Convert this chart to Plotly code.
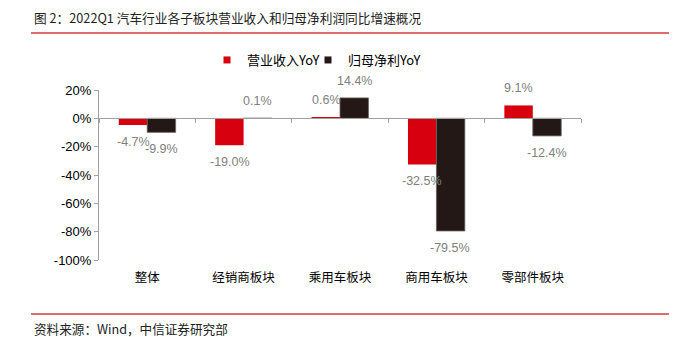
import plotly.graph_objects as go

categories = ["整体", "经销商板块", "乘用车板块", "商用车板块", "零部件板块"]
revenue_yoy = [-4.7, -19.0, 0.6, -32.5, 9.1]
profit_yoy = [-9.9, 0.1, 14.4, -79.5, -12.4]
series_names = ["营业收入YoY", "归母净利YoY"]
y_ticks = [20, 0, -20, -40, -60, -80, -100]

RED = "#d7000f"
BLACK = "#231815"
FONT = "Liberation Sans, Arial, Noto Sans CJK SC"
CJK = "Noto Sans CJK SC, Liberation Sans"

W, H = 681, 337
L, R, T, B = 99, 100, 90, 77
pw, ph = W - L - R, H - T - B

def px_x(px):
    return (px - L) / pw

def px_y(py):
    return (H - B - py) / ph

fig = go.Figure()
fig.add_trace(go.Bar(x=categories, y=revenue_yoy, name=series_names[0],
                     marker=dict(color=RED, line=dict(width=0)), showlegend=False))
fig.add_trace(go.Bar(x=categories, y=profit_yoy, name=series_names[1],
                     marker=dict(color=BLACK, line=dict(width=0.8, color="#6b6565")), showlegend=False))
# legend proxies (one legend each for exact placement)
fig.add_trace(go.Scatter(x=[None], y=[None], mode="markers", name=series_names[0],
                         marker=dict(symbol="square", size=7, color=RED), legend="legend"))
fig.add_trace(go.Scatter(x=[None], y=[None], mode="markers", name=series_names[1],
                         marker=dict(symbol="square", size=7, color=BLACK), legend="legend2"))
# helper trace on the zero-line axis
fig.add_trace(go.Scatter(x=categories, y=[None] * len(categories), xaxis="x2",
                         mode="markers", showlegend=False, hoverinfo="skip"))

# data labels
for vals, dx in ((revenue_yoy, -14), (profit_yoy, 14)):
    for c, v in zip(categories, vals):
        fig.add_annotation(x=c, y=v, xref="x", yref="y", text=f"{v:.1f}%",
                           showarrow=False, xshift=dx, yshift=17 if v >= 0 else -17,
                           font=dict(family=FONT, size=12.5, color="#808080"))

# title, source
fig.add_annotation(x=px_x(32), y=px_y(17), xref="paper", yref="paper",
                   text="图\u00a02：2022Q1 汽车行业各子板块营业收入和归母净利润同比增速概况",
                   showarrow=False, xanchor="left", yanchor="middle",
                   font=dict(family=CJK, size=12.7, color="#222222"))
fig.add_annotation(x=px_x(32), y=px_y(328), xref="paper", yref="paper",
                   text="资料来源：Wind，中信证券研究部",
                   showarrow=False, xanchor="left", yanchor="middle",
                   font=dict(family=CJK, size=12.6, color="#222222"))
for py in (33, 314):
    fig.add_shape(type="line", xref="paper", yref="paper",
                  x0=px_x(31), x1=px_x(669), y0=px_y(py), y1=px_y(py),
                  line=dict(color="#d63c3c", width=1.5))

zero_pos = (0 - min(y_ticks)) / (max(y_ticks) - min(y_ticks))

legend_common = dict(orientation="h", xref="paper", yref="paper",
                     xanchor="left", yanchor="middle",
                     font=dict(family=CJK, size=13, color="#000000"), itemclick=False,
                     bgcolor="rgba(0,0,0,0)")

fig.update_layout(
    width=W, height=H,
    margin=dict(l=L, r=R, t=T, b=B),
    paper_bgcolor="white", plot_bgcolor="white",
    barmode="group", bargap=0.41, bargroupgap=0,
    font=dict(family=FONT, size=13, color="#000000"),
    legend=dict(x=px_x(207), y=px_y(60), **legend_common),
    legend2=dict(x=px_x(308), y=px_y(60), **legend_common),
    xaxis=dict(type="category", categoryorder="array", categoryarray=categories,
               range=[-0.5, 4.5], showline=False, ticks="", showgrid=False,
               tickfont=dict(family=CJK, size=12.5, color="#000000"),
               ticklabelstandoff=8),
    xaxis2=dict(type="category", categoryorder="array", categoryarray=categories,
                range=[-0.5, 4.5], overlaying="x", anchor="free", position=zero_pos,
                showline=True, linecolor="#a0a0a0", linewidth=1,
                ticks="outside", tickson="boundaries", ticklen=4, tickcolor="#a0a0a0",
                showticklabels=False, showgrid=False, zeroline=False),
    yaxis=dict(range=[min(y_ticks), max(y_ticks)], tickvals=y_ticks,
               ticktext=[f"{t}%" for t in y_ticks],
               showline=True, linecolor="#a0a0a0", linewidth=1,
               ticks="outside", ticklen=4, tickcolor="#a0a0a0",
               showgrid=False, zeroline=False,
               tickfont=dict(family=FONT, size=13, color="#000000")),
)

fig.write_html("out.html")
